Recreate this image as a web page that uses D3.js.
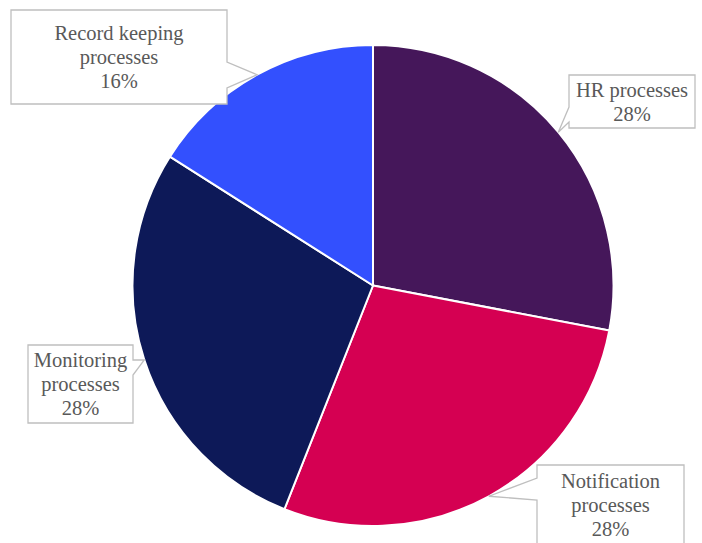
<!DOCTYPE html>
<html>
<head>
<meta charset="utf-8">
<script src="https://cdn.jsdelivr.net/npm/d3@7"></script>
<style>
  html, body { margin: 0; padding: 0; background: #fff; }
  svg { display: block; }
</style>
</head>
<body>
<svg id="chart" width="702" height="543"></svg>
<script>
// Share of processes by type
const categories = ["HR processes", "Notification processes", "Monitoring processes", "Record keeping processes"];
const values = [28, 28, 28, 16];
const labelLines = [["HR processes"], ["Notification", "processes"], ["Monitoring", "processes"], ["Record keeping", "processes"]];
const colors = ["#45175a", "#d50052", "#0d1958", "#3350fe"];

const svg = d3.select("#chart");
const cx = 373, cy = 285.5, radius = 240.5;

const pie = d3.pie().sort(null).value(d => d)(values);
const arc = d3.arc().innerRadius(0).outerRadius(radius);

const g = svg.append("g").attr("transform", `translate(${cx},${cy})`);
g.selectAll("path.slice")
  .data(pie)
  .join("path")
  .attr("class", "slice")
  .attr("d", arc)
  .attr("fill", (d, i) => colors[i])
  .attr("stroke", "#fff")
  .attr("stroke-width", 2)
  .attr("stroke-linejoin", "round");

// Callout boxes: rectangle with a pointer to the slice's mid-arc
const boxes = [
  { x: 569, y: 75,  w: 126, h: 53, side: "left",  a1: 32, a2: 47 },
  { x: 537, y: 465, w: 147, h: 80, side: "left",  a1: 13, a2: 35 },
  { x: 28,  y: 345, w: 105, h: 78, side: "right", a1: 15, a2: 30 },
  { x: 11,  y: 10,  w: 216, h: 94, side: "right", a1: 52, a2: 78 }
];

function calloutPath(b, tip) {
  const p = d3.path();
  const L = b.x, R = b.x + b.w, T = b.y, B = b.y + b.h;
  p.moveTo(L, T);
  p.lineTo(R, T);
  if (b.side === "right") {
    p.lineTo(R, T + b.a1);
    p.lineTo(tip[0], tip[1]);
    p.lineTo(R, T + b.a2);
  }
  p.lineTo(R, B);
  p.lineTo(L, B);
  if (b.side === "left") {
    p.lineTo(L, T + b.a2);
    p.lineTo(tip[0], tip[1]);
    p.lineTo(L, T + b.a1);
  }
  p.closePath();
  return p.toString();
}

const fmt = v => Math.round(v) + "%";
const lineH = 24;
const serif = '"Liberation Serif"';

pie.forEach((d, i) => {
  const mid = (d.startAngle + d.endAngle) / 2;
  const tip = [cx + radius * Math.sin(mid), cy - radius * Math.cos(mid)];
  const b = boxes[i];
  svg.append("path")
    .attr("d", calloutPath(b, tip))
    .attr("fill", "#fff")
    .attr("stroke", "#bfbfbf")
    .attr("stroke-width", 1.3);

  const lines = labelLines[i].concat([fmt(values[i])]);
  const midY = b.y + b.h / 2;
  const t = svg.append("text")
    .style("font-family", serif)
    .style("font-size", "20.5px")
    .style("fill", "#595959")
    .attr("text-anchor", "middle");
  lines.forEach((ln, k) => {
    t.append("tspan")
      .style("font-family", serif)
      .attr("x", b.x + b.w / 2)
      .attr("y", midY + (k - (lines.length - 1) / 2) * lineH + 7)
      .text(ln);
  });
});
</script>
</body>
</html>
